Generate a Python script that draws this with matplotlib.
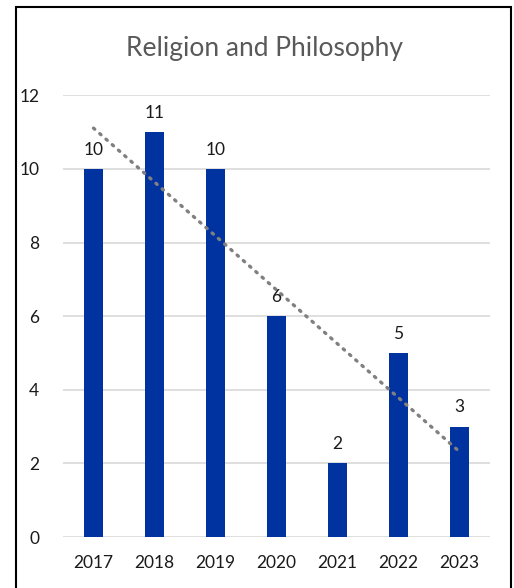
import matplotlib.pyplot as plt
import matplotlib.patches as mpatches
import numpy as np

plt.rcParams['font.family'] = ['Lato', 'DejaVu Sans']

years = ['2017', '2018', '2019', '2020', '2021', '2022', '2023']
counts = [10, 11, 10, 6, 2, 5, 3]

fig = plt.figure(figsize=(5.14, 5.88), dpi=100)
ax = fig.add_axes([0.1226, 0.0867, 0.8304, 0.7513])

x = np.arange(len(years))
bars = ax.bar(x, counts, width=0.31, color='#0033A0', zorder=3)

# linear trendline, like Excel
slope, icpt = np.polyfit(x, counts, 1)
ax.plot(x, slope * x + icpt, color='#808080', linewidth=2.4,
        linestyle=(0, (0.5, 2.0)), dash_capstyle='round', zorder=4)

for bar, val in zip(bars, counts):
    ax.annotate(str(val), (bar.get_x() + bar.get_width() / 2, val),
                xytext=(0, 8), textcoords='offset points',
                ha='center', va='bottom', fontsize=12.5, color='#1a1a1a', zorder=5)

ax.set_xlim(-0.5, 6.5)
ax.set_ylim(0, 12)
ax.set_yticks(range(0, 13, 2))
ax.set_xticks(x)
ax.set_xticklabels(years)
ax.tick_params(axis='both', length=0, labelsize=12.5, labelcolor='#1a1a1a')
ax.tick_params(axis='y', pad=17)
ax.tick_params(axis='x', pad=13)
ax.yaxis.grid(True, color='#D9D9D9', linewidth=1.2, zorder=0)
for s in ax.spines.values():
    s.set_visible(False)

fig.text(0.514, 0.918, 'Religion and Philosophy', ha='center', va='center',
         fontsize=19, color='#595959')

# chart border
fig.patches.append(mpatches.Rectangle((16 / 514, -0.05), 495 / 514, 1.05 - 7 / 588,
                                      transform=fig.transFigure, fill=False,
                                      edgecolor='black', linewidth=1.5))

plt.savefig('out.png', dpi=100, facecolor='white')
